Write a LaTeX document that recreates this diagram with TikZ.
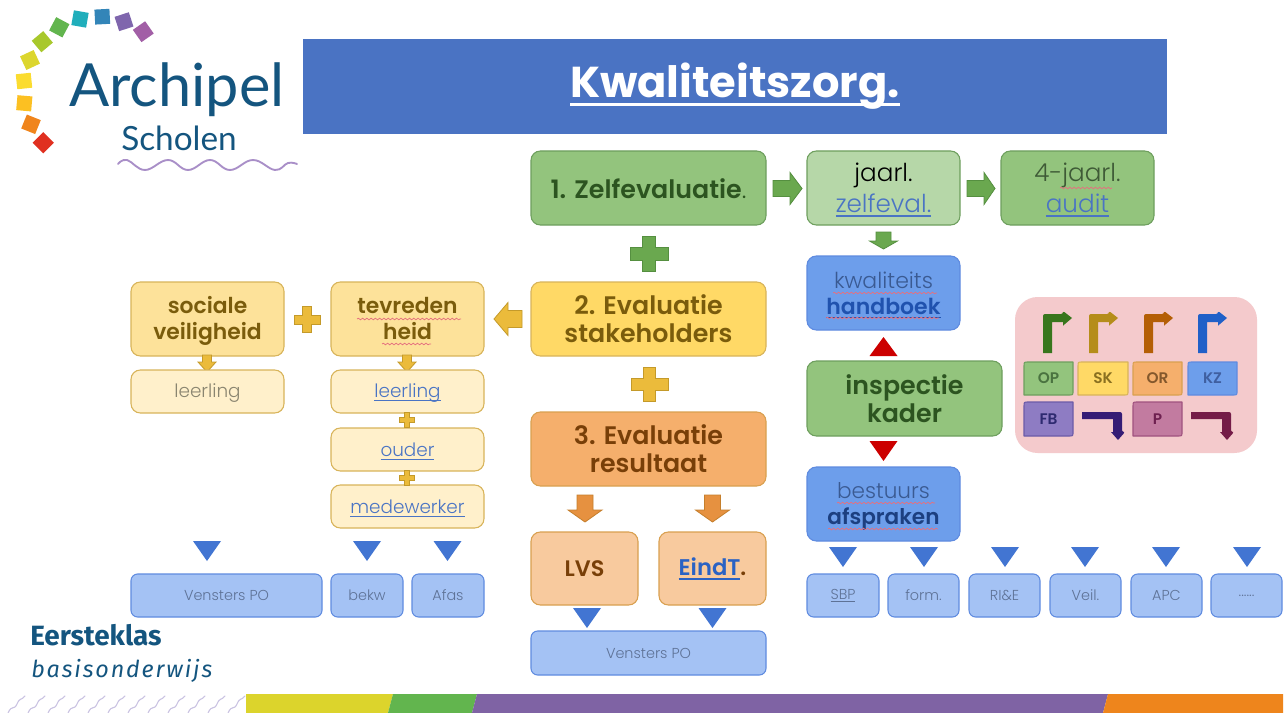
\documentclass[tikz,border=0pt]{standalone}
\usepackage{fontspec}
\setmainfont{Poppins}[UprightFont=* Light,BoldFont=* SemiBold]
\newfontfamily\heavy{Poppins}[UprightFont=* Bold]
\newfontfamily\logof{Lato}
\newfontfamily\fira{Fira Sans}
\newfontfamily\firal{Fira Sans}[LetterSpace=8]
\usetikzlibrary{decorations.pathmorphing}
\definecolor{gA}{HTML}{93C47D}\definecolor{gB}{HTML}{B6D7A8}\definecolor{gL}{HTML}{6E9F5E}
\definecolor{yA}{HTML}{FFD966}\definecolor{yB}{HTML}{FDE29A}\definecolor{yC}{HTML}{FFF0CB}\definecolor{yL}{HTML}{D8B45A}
\definecolor{oA}{HTML}{F5AF6C}\definecolor{oB}{HTML}{F8CA9E}\definecolor{oL}{HTML}{D9A050}
\definecolor{bA}{HTML}{6D9EEB}\definecolor{bB}{HTML}{A4C2F4}\definecolor{bL}{HTML}{5F8BE0}
\definecolor{lnk}{HTML}{4A74C4}\definecolor{navy}{HTML}{14557F}
\definecolor{gAr}{HTML}{6AA84F}\definecolor{gAs}{HTML}{558F40}
\definecolor{ayf}{HTML}{EBBB3B}\definecolor{ays}{HTML}{C49A2A}
\definecolor{aof}{HTML}{E69140}\definecolor{aos}{HTML}{C57F2C}
\definecolor{tbf}{HTML}{4275D2}\definecolor{trf}{HTML}{CC0000}\definecolor{spl}{HTML}{E5707F}
\definecolor{tG}{HTML}{2C5420}\definecolor{tY}{HTML}{7A5C0C}\definecolor{tO}{HTML}{783F08}
\definecolor{tB}{HTML}{3A5A92}\definecolor{tH}{HTML}{2052AE}\definecolor{tA}{HTML}{1C3F80}
\definecolor{tV}{HTML}{5E7296}\definecolor{tL}{HTML}{8A8570}\definecolor{tE}{HTML}{2A62C4}
\definecolor{tJ}{HTML}{3E5A36}\definecolor{titl}{HTML}{4A73C3}
\newcommand{\ul}[1]{\setbox0\hbox{#1}\rlap{\vrule height -0.13em depth 0.19em width \wd0}\box0}
\newcommand{\up}[1]{\rule{0pt}{#1}}
\tikzset{
 x=0.75pt,y=-0.75pt,
 boxb/.style={rounded corners=7pt,align=center,inner sep=0pt,line width=0.8pt},
 big/.style={boxb,font=\fontsize{19}{21}\selectfont\bfseries},
 sub/.style={boxb,font=\fontsize{16.4}{19.5}\selectfont\bfseries,text=tY},
 mid/.style={boxb,font=\fontsize{18.5}{23}\selectfont},
 blu/.style={boxb,fill=bA,draw=bL,font=\fontsize{16.5}{19.5}\selectfont,text=tB},
 sml/.style={boxb,font=\fontsize{13.8}{17}\selectfont},
 tiny/.style={boxb,rounded corners=5pt,font=\fontsize{10.8}{13}\selectfont,fill=bB,draw=bL,text=tV},
 ga/.style={fill=gA,draw=gL},gb/.style={fill=gB,draw=gL},
 ya/.style={fill=yA,draw=yL},yb/.style={fill=yB,draw=yL},yc/.style={fill=yC,draw=yL},
 oa/.style={fill=oA,draw=oL},ob/.style={fill=oB,draw=oL},
 agreen/.style={fill=gAr,draw=gAs,line width=0.6pt},
 ayel/.style={fill=ayf,draw=ays,line width=0.6pt},
 aora/.style={fill=aof,draw=aos,line width=0.6pt},
 tblue/.style={fill=tbf,draw=none},
 tred/.style={fill=trf,draw=none},
 tagb/.style={line width=0.8pt,line join=round},
 taglab/.style={font=\fontsize{11.5}{13}\selectfont\bfseries,inner sep=0pt},
 spell/.style={draw=spl,line width=0.55pt,decorate,decoration={snake,amplitude=0.6pt,segment length=3.2pt}},
}
% name,x1,y1,x2,y2,style,text
\newcommand{\bx}[7]{\node[#6,minimum width={(#4-#2)*0.75pt},minimum height={(#5-#3)*0.75pt}] (#1) at ({(#2+#4)/2},{(#3+#5)/2}) {#7};}
% vertical block arrow: cx,ystart,ybase,ytip,halfshaft,halfhead,style
\newcommand{\arV}[7]{\draw[#7] ({#1-#5},#2)--({#1+#5},#2)--({#1+#5},#3)--({#1+#6},#3)--(#1,#4)--({#1-#6},#3)--({#1-#5},#3)--cycle;}
% horizontal block arrow: cy,xstart,xbase,xtip,halfshaft,halfhead,style
\newcommand{\arH}[7]{\draw[#7] (#2,{#1-#5})--(#2,{#1+#5})--(#3,{#1+#5})--(#3,{#1+#6})--(#4,#1)--(#3,{#1-#6})--(#3,{#1-#5})--cycle;}
% plus: cx,cy,halfw,halfh,arm,style
\newcommand{\plusm}[6]{\draw[#6] ({#1-#5},{#2-#4})--({#1+#5},{#2-#4})--({#1+#5},{#2-#5})--({#1+#3},{#2-#5})--({#1+#3},{#2+#5})--({#1+#5},{#2+#5})--({#1+#5},{#2+#4})--({#1-#5},{#2+#4})--({#1-#5},{#2+#5})--({#1-#3},{#2+#5})--({#1-#3},{#2-#5})--({#1-#5},{#2-#5})--cycle;}
% triangle: cx,ybase,ytip,hw,style
\newcommand{\tri}[5]{\fill[#5] ({#1-#4},#2)--({#1+#4},#2)--(#1,#3)--cycle;}
% bent arrows
\newcommand{\bentU}[2]{\fill[fill=#2,rounded corners=1.5pt] (#1,353)--(#1,314)--({#1+20},314)--({#1+20},311)[sharp corners]--({#1+29},318)--({#1+20},325.7)--({#1+20},322)--({#1+9},322)--({#1+9},353)--cycle;}
\newcommand{\bentD}[2]{\fill[fill=#2,rounded corners=1.5pt] (#1,412)--({#1+40},412)--({#1+40},432)--({#1+43},432)[sharp corners]--({#1+36},440)--({#1+29},432)--({#1+31},432)--({#1+31},419)--(#1,419)--cycle;}
% tag with diagonal corners: name,x1,y1,x2,y2,fill,line,text colour,text
\newcommand{\tagbox}[9]{\draw[tagb,fill=#6,draw=#7] (#2,#5)--(#2,{#3+4}) .. controls (#2,#3) .. ({#2+4},#3)--(#4,#3)--(#4,{#5-4}) .. controls (#4,#5) .. ({#4-4},#5)--cycle;
 \node[taglab,text=#8] (#1) at ({(#2+#4)/2},{(#3+#5)/2}) {#9};}
\newcommand{\sq}[4]{\definecolor{tmpc}{HTML}{#4}\fill[tmpc,rotate around={#3:(#1,#2)}] ({#1-7.5},{#2-7.5}) rectangle ({#1+7.5},{#2+7.5});}
\newcommand{\barp}[5]{\definecolor{tmpc}{HTML}{#5}\fill[tmpc] (#1,694)--(#2,694)--(#4,713)--(#3,713)--cycle;}
\begin{document}
\begin{tikzpicture}
\useasboundingbox (0,0) rectangle (1287,713);
\fill[white] (0,0) rectangle (1287,713);
% logo
\sq{43.3}{142.7}{45}{E03020}
\sq{31}{124.3}{-22}{F0851C}
\sq{24.3}{103.3}{-5}{FCC022}
\sq{24}{81}{6}{FBDC30}
\sq{30}{60}{25}{DCD62E}
\sq{42.3}{41.7}{40}{A8C82C}
\sq{59.3}{27.3}{-28}{62B54E}
\sq{80}{19}{-10}{20AEBB}
\sq{102.3}{16.7}{3}{3385B8}
\sq{124}{21.7}{18}{7F66AD}
\sq{143.3}{31.7}{35}{A25FA6}
\node[anchor=base west,inner sep=0pt,text=navy,font=\logof\fontsize{44.6}{44}\selectfont] (arch) at (69,107) {Archipel};
\node[anchor=base west,inner sep=0pt,text=navy,font=\logof\fontsize{25}{25}\selectfont] (schol) at (121,151) {Scholen};
\definecolor{wavec}{HTML}{A98FC8}
\draw[wavec,line width=1.4pt,line cap=round] plot[smooth,tension=.7] coordinates {(118,164) (127,160) (145,170) (168,160) (188,170) (210,160) (230,170) (253,160) (275,170) (288,163) (297,164)};
% title
\bx{title}{303}{39}{1167}{134}{rounded corners=0pt,inner sep=0pt,fill=titl,text=white,font=\heavy\fontsize{32.4}{36}\selectfont}{\ul{Kwaliteitszorg.}}
% row 1
\bx{zelf}{531}{151}{766}{225}{big,ga,text=tG}{\up{16pt}1. Zelfevaluatie{\mdseries.}}
\bx{jaarl}{807}{151}{960}{225}{mid,gb,text=black}{\up{16.7pt}jaarl.\\\textcolor{lnk}{\ul{zelfeval.}}}
\bx{audit}{1001}{151}{1154}{225}{mid,ga,text=tJ}{\up{16.7pt}4-jaarl.\\\textcolor{lnk}{\ul{audit}}}
\arH{188.5}{773}{790}{802}{8}{16}{agreen}
\arH{188.5}{967}{984}{995}{8}{16}{agreen}
\arV{883.5}{232}{241}{249}{7.5}{14}{agreen}
\plusm{649}{254}{19}{17.5}{6.5}{agreen}
% handbook
\bx{hand}{807}{256}{960}{330}{blu}{\up{15.5pt}kwaliteits\\\textcolor{tH}{\bfseries\ul{handboek}}}
% row stakeholders
\bx{stake}{531}{282}{766}{356}{big,ya,text=tY}{2. Evaluatie\\stakeholders}
\bx{tev}{331}{282}{484}{356}{sub,yb}{tevreden\\heid}
\bx{soc}{131}{282}{284}{356}{sub,yb}{\up{15pt}sociale\\veiligheid}
\arH{319}{522}{508}{494}{8.5}{16.5}{ayel}
\plusm{307}{319.5}{13}{13}{4.5}{ayel}
\arV{207}{355}{362}{372}{4.5}{9}{ayel}
\arV{407}{355}{362}{372}{4.5}{9}{ayel}
\bx{l1}{131}{370}{284}{413}{sml,yc,text=tL}{\up{13pt}leerling}
\bx{l2}{331}{370}{484}{413}{sml,yc,text=lnk}{\up{13pt}\ul{leerling}}
\bx{ou}{331}{428}{484}{471}{sml,yc,text=lnk}{\up{13pt}\ul{ouder}}
\bx{me}{331}{485}{484}{528}{sml,yc,text=lnk}{\up{13pt}\ul{medewerker}}
\plusm{407}{420}{7.5}{7.5}{2.5}{ayel}
\plusm{407}{477.5}{7.5}{7.5}{2.5}{ayel}
% result
\plusm{649.5}{384}{18.5}{17}{6}{ayel}
\bx{res}{531}{412}{766}{486}{big,oa,text=tO}{3. Evaluatie\\resultaat}
\arV{585}{495}{510}{522}{8}{17}{aora}
\arV{712.5}{495}{510}{522}{8}{17}{aora}
\bx{lvs}{531}{532}{638}{605}{big,ob,text=tO,font=\fontsize{16.8}{21}\selectfont\bfseries}{LVS}
\bx{eind}{659}{532}{766}{605}{big,ob,text=tO,font=\fontsize{17}{21}\selectfont\bfseries}{\textcolor{tE}{\ul{EindT}}.}
\tri{587}{608}{628}{14}{tblue}
\tri{712.5}{608}{628}{14}{tblue}
\bx{v2}{531}{631}{766}{675}{tiny}{Vensters PO}
% inspection
\tri{883.5}{356}{337}{14}{tred}
\bx{insp}{807}{361}{1002}{436}{big,ga,text=tG}{inspectie\\kader}
\tri{883.5}{441}{461}{14}{tred}
\bx{best}{807}{467}{960}{541}{blu,font=\fontsize{16.2}{19.5}\selectfont}{\up{15.2pt}bestuurs\\\textcolor{tA}{\bfseries afspraken}}
% left bottom
\tri{207}{541}{561}{14}{tblue}\tri{367}{541}{561}{14}{tblue}\tri{447.5}{541}{561}{14}{tblue}
\bx{v1}{131}{574}{322}{617}{tiny}{Vensters PO}
\bx{bek}{331}{574}{403}{617}{tiny}{bekw}
\bx{afa}{412}{574}{484}{617}{tiny}{Afas}
% right bottom
\tri{843}{547}{567}{14}{tblue}\tri{924}{547}{567}{14}{tblue}\tri{1005}{547}{567}{14}{tblue}\tri{1085}{547}{567}{14}{tblue}\tri{1166}{547}{567}{14}{tblue}\tri{1247}{547}{567}{14}{tblue}
\bx{sbp}{807}{574}{879}{617}{tiny}{\ul{SBP}}
\bx{form}{888}{574}{959}{617}{tiny}{form.}
\bx{rie}{969}{574}{1040}{617}{tiny}{RI\&E}
\bx{veil}{1050}{574}{1121}{617}{tiny}{Veil.}
\bx{apc}{1131}{574}{1202}{617}{tiny}{APC}
\bx{dots}{1211}{574}{1282}{617}{tiny}{......}
% legend
\definecolor{pnk}{HTML}{F4CACC}
\bx{leg}{1015}{297}{1257}{453}{boxb,rounded corners=17pt,fill=pnk,draw=none}{}
\definecolor{c1}{HTML}{38761D}\definecolor{c2}{HTML}{B58D1A}\definecolor{c3}{HTML}{B45F06}\definecolor{c4}{HTML}{2060C8}\definecolor{c5}{HTML}{351C75}\definecolor{c6}{HTML}{741B47}
\definecolor{fF}{HTML}{8E7CC3}\definecolor{fL}{HTML}{6B5BA8}\definecolor{pF}{HTML}{C27BA0}\definecolor{pL}{HTML}{A0527F}
\definecolor{l1}{HTML}{4A7340}\definecolor{l2}{HTML}{8A7020}\definecolor{l3}{HTML}{84582C}\definecolor{l4}{HTML}{3F5FA0}\definecolor{l5}{HTML}{2E2A70}\definecolor{l6}{HTML}{6E2050}
\bentU{1043}{c1}
\bentU{1089}{c2}
\bentU{1144}{c3}
\bentU{1198}{c4}
\tagbox{op}{1024}{362}{1073}{395}{gA}{gL}{l1}{OP}
\tagbox{sk}{1078}{362}{1128}{395}{yA}{yL}{l2}{SK}
\tagbox{or}{1133}{362}{1182}{395}{oA}{oL}{l3}{OR}
\tagbox{kz}{1188}{362}{1237}{395}{bA}{bL}{l4}{KZ}
\tagbox{fb}{1024}{402}{1073}{436}{fF}{fL}{l5}{FB}
\tagbox{p}{1133}{402}{1182}{436}{pF}{pL}{l6}{P}
\bentD{1082}{c5}
\bentD{1191}{c6}
% spelling marks
\draw[spell] (357,319)--(461,319);
\draw[spell] (382,344)--(431,344);
\draw[spell] (1060,188)--(1112,188);
\draw[spell] (833,293)--(937,293);
\draw[spell] (826,318)--(939,318);
\draw[spell] (837,503)--(935,503);
\draw[spell] (828,529)--(938,529);
% footer logo
\node[anchor=base west,inner sep=0pt,text=navy,font=\fira\bfseries\fontsize{20.9}{21}\selectfont] (ee) at (30,645) {Eersteklas};
\node[anchor=base west,inner sep=0pt,text=navy,font=\firal\itshape\fontsize{17.5}{18}\selectfont] (bb) at (31,677) {basisonderwijs};
% bottom bar
\barp{246}{393}{246}{388}{DCD42C}
\barp{393}{477}{388}{472}{62B54E}
\barp{477}{1108}{472}{1103}{7F63A4}
\barp{1108}{1283}{1103}{1283}{EE851C}
\definecolor{squig}{HTML}{C9C2E2}
\foreach \k in {0,...,11}{
 \draw[squig,line width=0.8pt,line cap=round] ({8+\k*20},713) .. controls ({12+\k*20},704) and ({14+\k*20},711) .. ({17+\k*20},704) .. controls ({20+\k*20},697) and ({21+\k*20},701) .. ({25+\k*20},696);
}
\end{tikzpicture}
\end{document}
